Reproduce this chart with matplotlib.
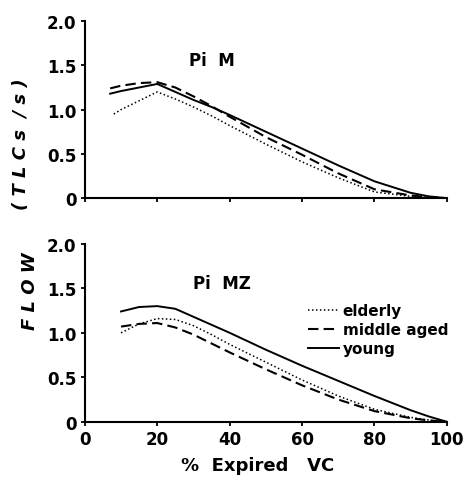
import matplotlib
matplotlib.use("Agg")
import matplotlib.pyplot as plt

# % expired VC positions
pim_x_young = [7, 10, 15, 20, 25, 30, 35, 40, 50, 60, 70, 80, 90, 95, 100]
pim_young = [1.18, 1.21, 1.25, 1.29, 1.20, 1.11, 1.03, 0.94, 0.75, 0.56, 0.37, 0.19, 0.06, 0.02, 0.0]
pim_x_mid = [7, 10, 15, 20, 25, 30, 35, 40, 50, 60, 70, 80, 90, 95, 100]
pim_mid = [1.24, 1.27, 1.30, 1.31, 1.25, 1.15, 1.04, 0.92, 0.69, 0.49, 0.28, 0.10, 0.03, 0.01, 0.0]
pim_x_eld = [8, 10, 15, 20, 25, 30, 35, 40, 50, 60, 70, 80, 90, 95, 100]
pim_eld = [0.95, 1.00, 1.10, 1.20, 1.12, 1.03, 0.93, 0.82, 0.61, 0.41, 0.23, 0.07, 0.02, 0.01, 0.0]

pimz_x = [10, 15, 20, 25, 30, 35, 40, 50, 60, 70, 80, 90, 95, 100]
pimz_young = [1.24, 1.29, 1.30, 1.27, 1.18, 1.09, 1.00, 0.81, 0.63, 0.46, 0.29, 0.13, 0.06, 0.0]
pimz_mid = [1.07, 1.10, 1.11, 1.06, 0.98, 0.88, 0.78, 0.59, 0.41, 0.25, 0.12, 0.04, 0.015, 0.0]
pimz_eld = [1.00, 1.10, 1.16, 1.15, 1.08, 0.98, 0.87, 0.67, 0.47, 0.29, 0.14, 0.05, 0.02, 0.0]

yticks = [0, 0.5, 1.0, 1.5, 2.0]
ytick_labels = ["0", "0.5", "1.0", "1.5", "2.0"]
xticks = [0, 20, 40, 60, 80, 100]
xtick_labels = ["0", "20", "40", "60", "80", "100"]

plt.rcParams["font.family"] = ["DejaVu Sans"]
plt.rcParams["font.weight"] = "bold"

fig = plt.figure(figsize=(4.66, 4.81), dpi=100)
ax1 = fig.add_axes([0.182, 0.586, 0.777, 0.368])
ax2 = fig.add_axes([0.182, 0.121, 0.777, 0.370])

dash = (0, (5, 2.5))
dot = (0, (1, 1.6))

ax1.plot(pim_x_eld, pim_eld, color="black", lw=1.1, linestyle=dot)
ax1.plot(pim_x_mid, pim_mid, color="black", lw=1.5, linestyle=dash)
ax1.plot(pim_x_young, pim_young, color="black", lw=1.4)

ax2.plot(pimz_x, pimz_eld, color="black", lw=1.1, linestyle=dot, label="elderly")
ax2.plot(pimz_x, pimz_mid, color="black", lw=1.5, linestyle=dash, label="middle aged")
ax2.plot(pimz_x, pimz_young, color="black", lw=1.4, label="young")

for ax in (ax1, ax2):
    ax.set_xlim(0, 100)
    ax.set_ylim(0, 2.0)
    ax.spines["top"].set_visible(False)
    ax.spines["right"].set_visible(False)
    ax.spines["left"].set_linewidth(1.5)
    ax.spines["bottom"].set_linewidth(1.5)
    ax.set_yticks(yticks)
    ax.set_yticklabels(ytick_labels, fontsize=12, fontweight="bold")
    ax.set_xticks(xticks)
    ax.tick_params(axis="both", direction="out", length=3, width=1.3, pad=3)
    ax.margins(0)

ax1.set_xticklabels([])
ax2.set_xticklabels(xtick_labels, fontsize=12, fontweight="bold")

ax1.text(0.35, 0.78, "Pi  M", transform=ax1.transAxes, fontsize=12, ha="center", va="center")
ax2.text(0.38, 0.78, "Pi  MZ", transform=ax2.transAxes, fontsize=12, ha="center", va="center")

leg = ax2.legend(loc="upper left", bbox_to_anchor=(0.6, 0.70), frameon=False,
                 fontsize=11, handlelength=2.0, handletextpad=0.25, labelspacing=0.25,
                 borderaxespad=0)

fig.text(0.045, 0.70, "( T L C s  / s )", rotation=90, fontsize=13, style="italic",
         ha="center", va="center")
fig.text(0.065, 0.395, "F L O W", rotation=90, fontsize=13, style="italic",
         ha="center", va="center")
fig.text(0.553, 0.032, "%  Expired   VC", fontsize=13, ha="center", va="center")

fig.savefig("out.png", dpi=100)
